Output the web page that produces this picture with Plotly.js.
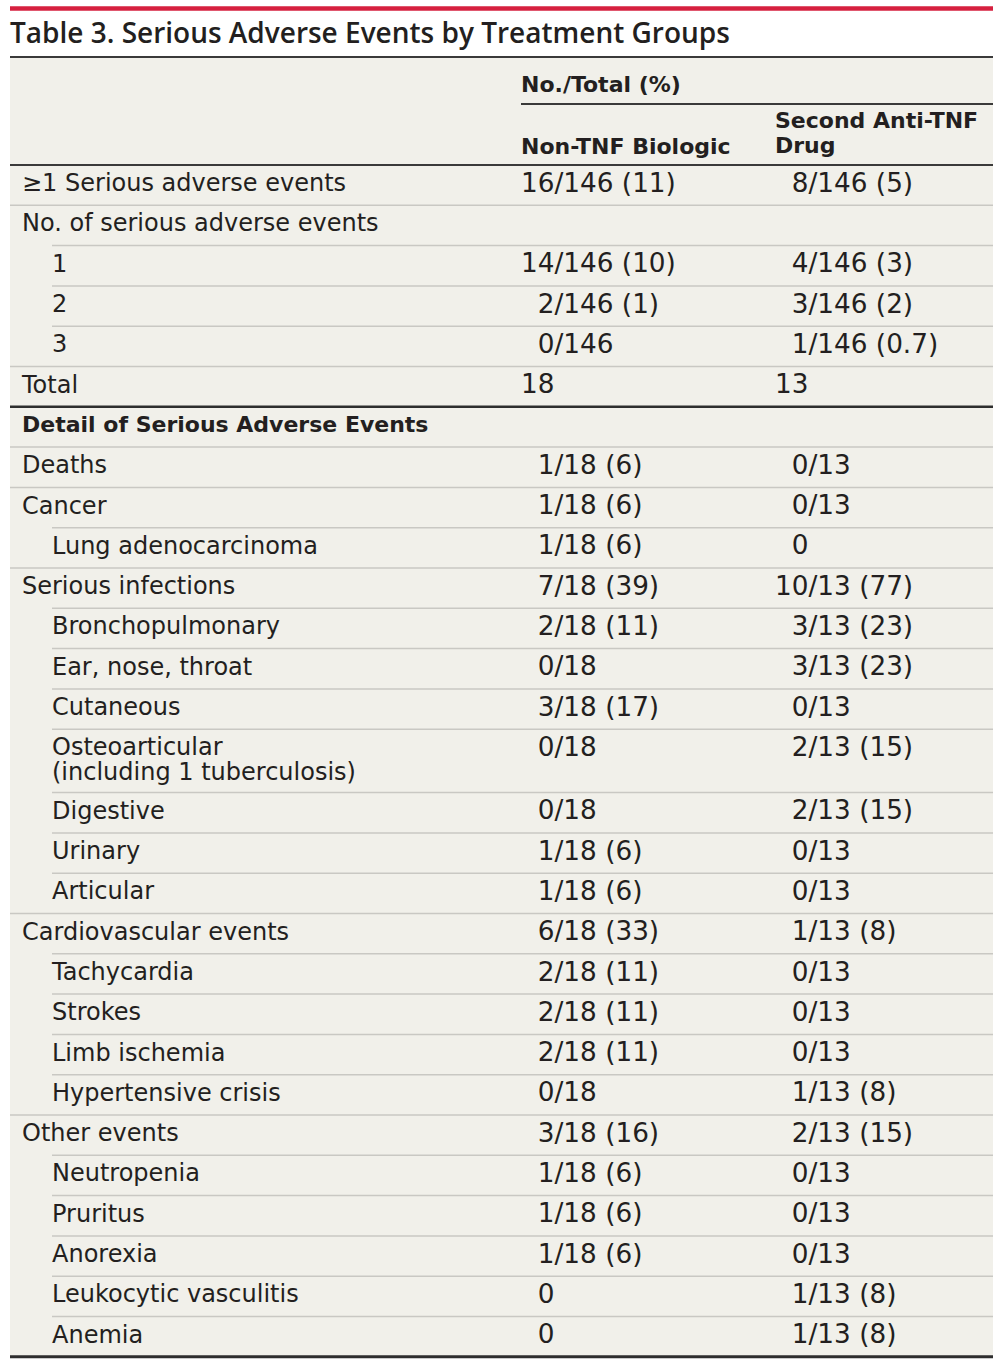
<!DOCTYPE html>
<html>
<head>
<meta charset="utf-8">
<script src="https://cdn.plot.ly/plotly-3.0.1.min.js"></script>
<style>html,body{margin:0;padding:0;background:#fff;}#chart{width:1006px;height:1365px;}</style>
</head>
<body>
<div id="chart"></div>
<script>
// ---- Data ----
var titleText = "Table 3. Serious Adverse Events by Treatment Groups";
var spanHeader = "No./Total (%)";
var colHeaders = ["Non-TNF Biologic", "Second Anti-TNF<br>Drug"];

var rowLabels = [
  "≥1 Serious adverse events",
  "No. of serious adverse events",
  "1",
  "2",
  "3",
  "Total",
  "Detail of Serious Adverse Events",
  "Deaths",
  "Cancer",
  "Lung adenocarcinoma",
  "Serious infections",
  "Bronchopulmonary",
  "Ear, nose, throat",
  "Cutaneous",
  "Osteoarticular<br>(including 1 tuberculosis)",
  "Digestive",
  "Urinary",
  "Articular",
  "Cardiovascular events",
  "Tachycardia",
  "Strokes",
  "Limb ischemia",
  "Hypertensive crisis",
  "Other events",
  "Neutropenia",
  "Pruritus",
  "Anorexia",
  "Leukocytic vasculitis",
  "Anemia"
];
// 1 = sub-item (indented), 0 = top-level
var rowIndent = [0,0,1,1,1,0,0,0,0,1,0,1,1,1,1,1,1,1,0,1,1,1,1,0,1,1,1,1,1];
// section heading rows (bold)
var rowBold = [0,0,0,0,0,0,1,0,0,0,0,0,0,0,0,0,0,0,0,0,0,0,0,0,0,0,0,0,0];

var nonTnfBiologic = [
  "16/146 (11)", "", "14/146 (10)", "2/146 (1)", "0/146", "18",
  "", "1/18 (6)", "1/18 (6)", "1/18 (6)", "7/18 (39)", "2/18 (11)",
  "0/18", "3/18 (17)", "0/18", "0/18", "1/18 (6)", "1/18 (6)",
  "6/18 (33)", "2/18 (11)", "2/18 (11)", "2/18 (11)", "0/18",
  "3/18 (16)", "1/18 (6)", "1/18 (6)", "1/18 (6)", "0", "0"
];
var secondAntiTnf = [
  "8/146 (5)", "", "4/146 (3)", "3/146 (2)", "1/146 (0.7)", "13",
  "", "0/13", "0/13", "0", "10/13 (77)", "3/13 (23)",
  "3/13 (23)", "0/13", "2/13 (15)", "2/13 (15)", "0/13", "0/13",
  "1/13 (8)", "0/13", "0/13", "0/13", "1/13 (8)",
  "2/13 (15)", "0/13", "0/13", "0/13", "1/13 (8)", "1/13 (8)"
];

// ---- Layout constants ----
var W = 1006, H = 1365;
var LEFT = 10, RIGHT = 993;
var X_LABEL = 22, X_INDENT = 52, X_COL1 = 521, X_COL2 = 775;
var HEADER_BOTTOM = 165, ROW_H = 40.3, EXTRA_LINE = 23.1, LINE_GAP = 25;
var TXT = "#231f20";
var BODY_FONT = "DejaVu Sans";

// figure-space padding so numerators line up
function pad(v) {
  if (!v) return v;
  var num = v.split("/")[0].split(" ")[0];
  return num.length < 2 ? "\u2007" + v : v;
}

// compute row tops
var rowTop = [], y = HEADER_BOTTOM;
rowLabels.forEach(function (lab) {
  rowTop.push(y);
  var n = lab.split("<br>").length;
  y += ROW_H + (n - 1) * EXTRA_LINE;
});
var tableBottom = y;

var traces = [];
function addText(xs, ys, texts, size, weight, family) {
  traces.push({
    type: "scatter", mode: "text", x: xs, y: ys, text: texts,
    textposition: "middle right", hoverinfo: "skip", cliponaxis: false,
    textfont: {family: family || BODY_FONT, size: size, color: TXT, weight: weight || 400},
    showlegend: false
  });
}

// row labels
var lx = [], ly = [], lt = [], bx = [], by = [], bt = [];
rowLabels.forEach(function (lab, i) {
  var parts = lab.split("<br>");
  parts.forEach(function (p, k) {
    var xx = rowIndent[i] ? X_INDENT : X_LABEL;
    var yy = rowTop[i] + ROW_H / 2 + k * LINE_GAP;
    if (rowBold[i]) { bx.push(xx); by.push(yy); bt.push(p); }
    else { lx.push(xx); ly.push(yy); lt.push(p); }
  });
});
addText(lx, ly, lt, 24, 400);

// value columns
var c1x = [], c1y = [], c1t = [], c2x = [], c2y = [], c2t = [];
rowLabels.forEach(function (lab, i) {
  var yy = rowTop[i] + ROW_H / 2;
  if (nonTnfBiologic[i]) { c1x.push(X_COL1); c1y.push(yy); c1t.push(pad(nonTnfBiologic[i])); }
  if (secondAntiTnf[i]) { c2x.push(X_COL2); c2y.push(yy); c2t.push(pad(secondAntiTnf[i])); }
});
addText(c1x, c1y, c1t, 26.3, 400);
addText(c2x, c2y, c2t, 26.3, 400);

// bold headers
var h2 = colHeaders[1].split("<br>");
bx.push(X_COL1, X_COL1, X_COL2, X_COL2);
by.push(86, 148, 122, 147);
bt.push(spanHeader, colHeaders[0], h2[0], h2[1]);
addText(bx, by, bt, 22, 700);

// shapes
var shapes = [];
shapes.push({type: "rect", layer: "below", xref: "x", yref: "y", x0: LEFT, x1: RIGHT, y0: 57, y1: tableBottom,
  fillcolor: "#f1f0ea", line: {width: 0}});
function hline(x0, x1, yy, w, c) {
  shapes.push({type: "line", xref: "x", yref: "y", x0: x0, x1: x1, y0: yy, y1: yy, line: {color: c, width: w}});
}
hline(LEFT, RIGHT, 8.5, 4.5, "#d6203f");
hline(LEFT, RIGHT, 57, 2, "#3a3a3a");
hline(X_COL1, RIGHT, 104, 2, "#3a3a3a");
hline(LEFT, RIGHT, HEADER_BOTTOM, 2, "#3a3a3a");
for (var i = 1; i < rowLabels.length; i++) {
  if (rowBold[i]) hline(LEFT, RIGHT, rowTop[i], 2.5, "#2e2e2e");
  else hline(rowIndent[i] ? X_INDENT : LEFT, RIGHT, rowTop[i], 1.5, "#c9c8c3");
}
hline(LEFT, RIGHT, tableBottom, 3, "#2e2e2e");

var layout = {
  width: W, height: H,
  margin: {l: 0, r: 0, t: 0, b: 0, pad: 0},
  paper_bgcolor: "#ffffff", plot_bgcolor: "#ffffff",
  showlegend: false,
  title: {text: titleText, x: LEFT / W, xanchor: "left", xref: "paper",
    y: 1 - 33 / H, yanchor: "middle", yref: "container",
    font: {family: "Open Sans", size: 28, weight: 600, color: "#231f20"}},
  xaxis: {range: [0, W], visible: false, fixedrange: true},
  yaxis: {range: [H, 0], visible: false, fixedrange: true},
  shapes: shapes
};
Plotly.newPlot("chart", traces, layout, {displayModeBar: false, staticPlot: true});
</script>
</body>
</html>
